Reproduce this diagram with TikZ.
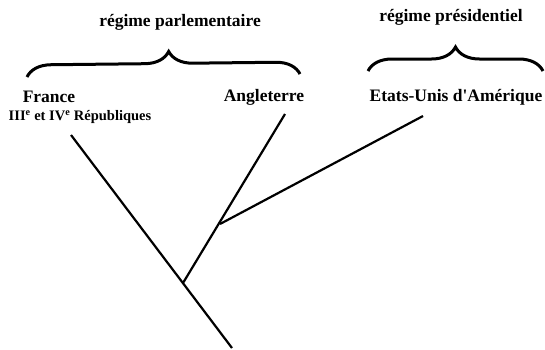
\documentclass[tikz,border=0pt]{standalone}
\usepackage{fontspec}
\setmainfont{Liberation Serif}[Ligatures=TeXOff]
\usepackage{tikz}
\usetikzlibrary{decorations.pathreplacing}
\tikzset{
  titre/.style ={font=\fontsize{17.5bp}{20bp}\selectfont\bfseries,inner sep=1pt},
  pays/.style  ={font=\fontsize{17.5bp}{20bp}\selectfont\bfseries,inner sep=1pt},
  sous/.style  ={font=\fontsize{14.5bp}{17bp}\selectfont\bfseries,inner sep=1pt},
  accolade/.style={decorate,decoration={brace,amplitude=24bp},line width=3bp},
  branche/.style={line width=2.2bp},
}

\begin{document}
\begin{tikzpicture}[x=1bp,y=-1bp]
\useasboundingbox (0,0) rectangle (545,349);
% regimes
\node[titre] (parl) at (180,22) {régime parlementaire};
\node[titre] (pres) at (451,17) {régime présidentiel};
\draw[accolade,decoration={aspect=0.52}] (27,77) -- (300,74);
\draw[accolade] (368,71) -- (543,71);
% pays
\node[pays] (fr) at (49,97) {France};
\node[sous] (rep) at (80,117) {III\textsuperscript{e} et IV\textsuperscript{e} Républiques};
\node[pays] (ang) at (264,97) {Angleterre};
\node[pays] (usa) at (456,97) {Etats-Unis d'Amérique};
% arbre
\coordinate (racine) at (232,348);
\coordinate (n1) at (183,283);
\coordinate (n2) at (220,224);
\coordinate (bfr) at (71,135);
\coordinate (bang) at (285,114);
\coordinate (busa) at (423,116);
\draw[branche] (racine) -- (bfr);
\draw[branche] (n1) -- (bang);
\draw[branche] (n2) -- (busa);
\end{tikzpicture}
\end{document}
